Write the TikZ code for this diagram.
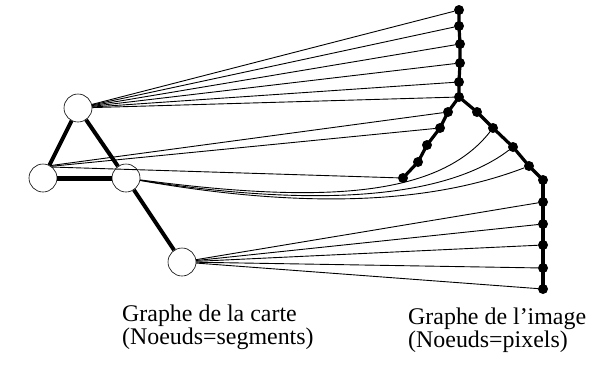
\documentclass[tikz,border=0pt]{standalone}
\usepackage{fontspec}
\setmainfont{Liberation Serif}
\usepackage{tikz}
\usetikzlibrary{positioning}

\begin{document}
\begin{tikzpicture}[x=1bp, y=-1bp,
  seg/.style={circle, draw, fill=white, line width=0.6bp, minimum size=28bp, inner sep=0pt},
  pix/.style={circle, fill=black, minimum size=10bp, inner sep=0pt},
  segedge/.style={line width=4bp},
  chain/.style={line width=3.2bp},
  match/.style={line width=0.9bp},
  caption/.style={align=left, anchor=north west, inner sep=0pt, font=\fontsize{24}{19}\selectfont}]
\useasboundingbox (0,0) rectangle (613,379);

% Map graph (segments)
\node[seg] (s1) at (78,108) {};
\node[seg] (s2) at (43,178) {};
\node[seg] (s3) at (126,178) {};
\node[seg] (s4) at (182,262) {};

\draw[segedge] (s1) -- (s2);
\draw[segedge] (s1) -- (s3);
\draw[line width=5bp] (s2) -- (s3);
\draw[segedge] (s3) -- (s4);

% Image graph (pixels)
\node[pix] (t1) at (459,10) {};
\node[pix] (t2) at (459,26) {};
\node[pix] (t3) at (460,44) {};
\node[pix] (t4) at (460,63) {};
\node[pix] (t5) at (459,82) {};
\node[pix] (t6) at (459,97) {};

\node[pix] (l1) at (448,112) {};
\node[pix] (l2) at (440,128) {};
\node[pix] (l3) at (427,145) {};
\node[pix] (l4) at (418,162) {};
\node[pix] (l5) at (403,178) {};

\node[pix] (r1) at (477,112) {};
\node[pix] (r2) at (493,128) {};
\node[pix] (r3) at (513,147) {};
\node[pix] (r4) at (529,166) {};
\node[pix] (r5) at (543,180) {};

\node[pix] (b1) at (543,202) {};
\node[pix] (b2) at (543,224) {};
\node[pix] (b3) at (543,245) {};
\node[pix] (b4) at (543,268) {};
\node[pix] (b5) at (543,289) {};

\draw[chain] (t1.center) -- (t2.center) -- (t3.center) -- (t4.center) -- (t5.center) -- (t6.center);
\draw[chain] (t6.center) -- (l1.center) -- (l2.center) -- (l3.center) -- (l4.center) -- (l5.center);
\draw[chain] (t6.center) -- (r1.center) -- (r2.center) -- (r3.center) -- (r4.center) -- (r5.center);
\draw[chain] (r5.center) -- (b1.center) -- (b2.center) -- (b3.center) -- (b4.center) -- (b5.center);

% Matching
\draw[match] (s1) -- (t1);
\draw[match] (s1) -- (t2);
\draw[match] (s1) -- (t3);
\draw[match] (s1) -- (t4);
\draw[match] (s1) -- (t5);
\draw[match] (s1) -- (t6);

\draw[match] (s2.60) -- (l1);
\draw[match] (s2.55) -- (l2);
\draw[match] (s2.50) -- (l5);

\draw[match] (s3) .. controls (330,205) and (440,195) .. (r2);
\draw[match] (s3) .. controls (330,210) and (450,195) .. (r3);
\draw[match] (s3) .. controls (320,212) and (440,200) .. (r4);

\draw[match] (s4) -- (b1);
\draw[match] (s4) -- (b2);
\draw[match] (s4) -- (b3);
\draw[match] (s4) -- (b4);
\draw[match] (s4) -- (b5);

% Captions
\node[caption] (cap1) at (122,305) {Graphe de la carte\\(Noeuds=segments)};
\node[caption] (cap2) at (408,308) {Graphe de l'image\\(Noeuds=pixels)};
\end{tikzpicture}
\end{document}
